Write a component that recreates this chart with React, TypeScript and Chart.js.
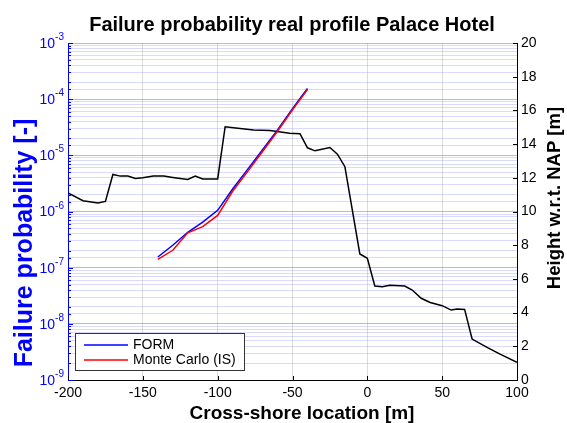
import React, { useEffect, useRef } from "react";
import { Chart, registerables } from "chart.js";

Chart.register(...registerables);

const TITLE = "Failure probability real profile Palace Hotel";
const X_TITLE = "Cross-shore location [m]";
const LEFT_TITLE = "Failure probability [-]";
const RIGHT_TITLE = "Height w.r.t. NAP [m]";

const profileX = [-200, -190, -180, -175, -170, -165, -160, -155, -150, -143, -136, -130, -120, -115, -110, -100, -95, -85, -76, -65, -52, -45, -40, -35, -25, -20, -15, -5, 0, 5, 10, 15, 25, 30, 36, 42, 50, 56, 60, 65, 70, 80, 89, 100];
const profileH = [11.1, 10.64, 10.5, 10.6, 12.2, 12.1, 12.1, 11.96, 12.0, 12.1, 12.1, 12.02, 11.9, 12.1, 11.93, 11.93, 15.03, 14.93, 14.84, 14.8, 14.64, 14.62, 13.78, 13.6, 13.8, 13.4, 12.66, 7.48, 7.22, 5.58, 5.54, 5.62, 5.58, 5.34, 4.85, 4.6, 4.41, 4.15, 4.21, 4.19, 2.43, 1.94, 1.52, 1.05];

const probX = [-140, -130, -120, -110, -100, -90, -80, -70, -60, -50, -40];
const formP = [1.55e-7, 2.51e-7, 4.27e-7, 6.46e-7, 1.05e-6, 2.51e-6, 5.62e-6, 1.26e-5, 2.82e-5, 6.76e-5, 1.55e-4];
const mcP = [1.41e-7, 2.04e-7, 4.17e-7, 5.37e-7, 8.51e-7, 2.29e-6, 5.13e-6, 1.17e-5, 2.69e-5, 6.46e-5, 1.48e-4];

const X_MIN = -200;
const X_MAX = 100;
const X_STEP = 50;
const P_MIN = 1e-9;
const P_MAX = 1e-3;
const H_MIN = 0;
const H_MAX = 20;
const H_STEP = 2;

const FONT = '"Liberation Sans", Arial, Helvetica, sans-serif';

const isMajor = (v: number) => {
  const e = Math.log10(v);
  return Math.abs(e - Math.round(e)) < 1e-6;
};

const decor = {
  id: "decor",
  afterDraw(chart: any) {
    const { ctx, chartArea: a, scales } = chart;
    ctx.save();
    ctx.lineWidth = 1;
    // inside tick marks + left tick labels (10 with superscript exponent)
    const yP = scales.yP;
    yP.ticks.forEach((t: any) => {
      const yv = yP.getPixelForValue(t.value);
      const y = Math.round(yv) + 0.5;
      const major = isMajor(t.value);
      ctx.strokeStyle = "#0000ff";
      ctx.beginPath();
      ctx.moveTo(a.left, y);
      ctx.lineTo(a.left + (major ? 5 : 3), y);
      ctx.stroke();
      if (major) {
        const exp = String(Math.round(Math.log10(t.value)));
        ctx.fillStyle = "#0000ff";
        ctx.textAlign = "right";
        ctx.font = `10px ${FONT}`;
        ctx.textBaseline = "alphabetic";
        const ew = ctx.measureText(exp).width;
        const right = a.left - 4;
        ctx.fillText(exp, right, yv - 3);
        ctx.font = `14px ${FONT}`;
        ctx.textBaseline = "middle";
        ctx.fillText("10", right - ew, yv + 1);
      }
    });
    const yH = scales.yH;
    ctx.strokeStyle = "#000";
    yH.ticks.forEach((t: any) => {
      const y = Math.round(yH.getPixelForValue(t.value)) + 0.5;
      ctx.beginPath();
      ctx.moveTo(a.right, y);
      ctx.lineTo(a.right - 4, y);
      ctx.stroke();
    });
    const xs = scales.x;
    xs.ticks.forEach((t: any) => {
      const x = Math.round(xs.getPixelForValue(t.value)) + 0.5;
      ctx.beginPath();
      ctx.moveTo(x, a.bottom);
      ctx.lineTo(x, a.bottom - 4);
      ctx.stroke();
    });

    // titles
    ctx.fillStyle = "#000";
    ctx.textAlign = "center";
    ctx.textBaseline = "alphabetic";
    ctx.font = `bold 20px ${FONT}`;
    ctx.fillText(TITLE, 292, 31);
    ctx.font = `bold 19px ${FONT}`;
    ctx.fillText(X_TITLE, 302, 419);

    ctx.save();
    ctx.translate(32, 243);
    ctx.rotate(-Math.PI / 2);
    ctx.fillStyle = "#0000ff";
    ctx.font = `bold 25px ${FONT}`;
    ctx.fillText(LEFT_TITLE, 0, 0);
    ctx.restore();

    ctx.save();
    ctx.translate(560, 198);
    ctx.rotate(-Math.PI / 2);
    ctx.fillStyle = "#000";
    ctx.font = `bold 18.5px ${FONT}`;
    ctx.fillText(RIGHT_TITLE, 0, 0);
    ctx.restore();

    // legend
    const bx = 75.5, by = 333.5, bw = 169, bh = 37;
    ctx.fillStyle = "#fff";
    ctx.fillRect(bx, by, bw, bh);
    ctx.strokeStyle = "#333";
    ctx.lineWidth = 1;
    ctx.strokeRect(bx, by, bw, bh);
    const entries = [chart.data.datasets[1], chart.data.datasets[0]];
    ctx.textAlign = "left";
    ctx.textBaseline = "middle";
    ctx.font = `14px ${FONT}`;
    entries.forEach((ds: any, i: number) => {
      const y = 345 + i * 15;
      ctx.strokeStyle = ds.borderColor;
      ctx.lineWidth = 1.5;
      ctx.beginPath();
      ctx.moveTo(84, y);
      ctx.lineTo(128, y);
      ctx.stroke();
      ctx.fillStyle = "#000";
      ctx.fillText(ds.label, 133, y + 0.5);
    });
    ctx.restore();
  },
};

export default function App() {
  const ref = useRef<HTMLCanvasElement>(null);
  useEffect(() => {
    if (!ref.current) return;
    const chart = new Chart(ref.current, {
      type: "line",
      data: {
        datasets: [
          {
            label: "Monte Carlo (IS)",
            data: probX.map((x, i) => ({ x, y: mcP[i] })),
            borderColor: "#ff0000",
            borderWidth: 1.5,
            pointRadius: 0,
            yAxisID: "yP",
          },
          {
            label: "FORM",
            data: probX.map((x, i) => ({ x, y: formP[i] })),
            borderColor: "#0000ff",
            borderWidth: 1.5,
            pointRadius: 0,
            yAxisID: "yP",
          },
          {
            label: "Profile",
            data: profileX.map((x, i) => ({ x, y: profileH[i] })),
            borderColor: "#000000",
            borderWidth: 1.5,
            pointRadius: 0,
            yAxisID: "yH",
          },
        ],
      },
      options: {
        animation: false,
        responsive: true,
        maintainAspectRatio: false,
        layout: { padding: { top: 43, left: 0, right: 0, bottom: 0 } },
        plugins: { legend: { display: false }, title: { display: false }, tooltip: { enabled: false } },
        scales: {
          x: {
            type: "linear",
            min: X_MIN,
            max: X_MAX,
            ticks: { stepSize: X_STEP, color: "#000", font: { family: FONT, size: 14 }, padding: 5 },
            grid: { color: "#dcdcdc", drawTicks: false },
            border: { color: "#000", width: 1 },
            afterFit: (s: any) => { s.height = 43; },
          },
          yP: {
            type: "logarithmic",
            position: "left",
            min: P_MIN,
            max: P_MAX,
            ticks: { autoSkip: false, display: false },
            grid: {
              drawTicks: false,
              color: (c: any) => (c.tick && isMajor(c.tick.value) ? "rgba(120,120,255,0.55)" : "rgba(150,150,255,0.35)"),
            },
            border: { color: "#0000ff", width: 1 },
            afterFit: (s: any) => { s.width = 68; },
          },
          yH: {
            type: "linear",
            position: "right",
            min: H_MIN,
            max: H_MAX,
            ticks: { stepSize: H_STEP, color: "#000", font: { family: FONT, size: 14 }, padding: 4 },
            grid: { drawOnChartArea: false, drawTicks: false },
            border: { color: "#000", width: 1 },
            afterFit: (s: any) => { s.width = 50; },
          },
        },
      },
      plugins: [decor],
    } as any);
    return () => chart.destroy();
  }, []);
  return (
    <div style={{ position: "fixed", left: 0, top: 0, width: 567, height: 423, background: "#fff" }}>
      <canvas ref={ref} />
    </div>
  );
}
